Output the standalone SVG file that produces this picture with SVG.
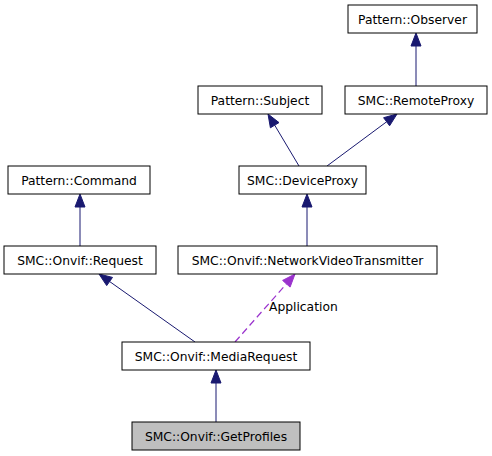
<svg xmlns="http://www.w3.org/2000/svg" width="492" height="456" viewBox="0 0 492 456">
<style>
.box{fill:#fff;stroke:#000;stroke-width:1}
.cur{fill:#bfbfbf;stroke:#000;stroke-width:1}
text{font-family:"DejaVu Sans",sans-serif;font-size:12.3px;fill:#000;text-anchor:middle}
.e{stroke:#191970;stroke-width:1;fill:none}
.ah{fill:#191970;stroke:#191970;stroke-width:1}
.d{stroke:#9a32cd;stroke-width:1.2;fill:none;stroke-dasharray:7,4}
.dh{fill:#9a32cd;stroke:#9a32cd;stroke-width:1}
</style>
<rect width="492" height="456" fill="#fff"/>
<g id="edges">
<line class="e" x1="416" y1="86" x2="416" y2="46"/>
<polygon class="ah" points="416,33 421,46 411,46"/>
<line class="e" x1="299" y1="166" x2="274.7" y2="125.2"/>
<polygon class="ah" points="268,114 279,122.6 270.4,127.8"/>
<line class="e" x1="327" y1="166" x2="386.6" y2="121.8"/>
<polygon class="ah" points="397,114 389.6,125.8 383.6,117.7"/>
<line class="e" x1="80" y1="246" x2="80" y2="207"/>
<polygon class="ah" points="80,194 85,207 75,207"/>
<line class="e" x1="307" y1="246" x2="307" y2="207"/>
<polygon class="ah" points="307,194 312,207 302,207"/>
<line class="e" x1="195" y1="342" x2="109.6" y2="281.5"/>
<polygon class="ah" points="99,274 112.5,277.4 106.7,285.6"/>
<line class="d" x1="235" y1="342" x2="286.4" y2="283.8"/>
<polygon class="dh" points="295,274 290.1,287.1 282.6,280.4"/>
<text x="269" y="311" style="text-anchor:start">Application</text>
<line class="e" x1="216" y1="422" x2="216" y2="383"/>
<polygon class="ah" points="216,370 221,383 211,383"/>
</g>
<g id="observer"><rect class="box" x="348" y="5" width="129" height="28"/><text x="412.5" y="23.5">Pattern::Observer</text></g>
<g id="remoteproxy"><rect class="box" x="345" y="86" width="142" height="28"/><text x="416" y="104.5">SMC::RemoteProxy</text></g>
<g id="subject"><rect class="box" x="198" y="86" width="124" height="28"/><text x="260" y="104.5">Pattern::Subject</text></g>
<g id="deviceproxy"><rect class="box" x="239" y="166" width="127" height="28"/><text x="302.5" y="184.5">SMC::DeviceProxy</text></g>
<g id="command"><rect class="box" x="8" y="166" width="142" height="28"/><text x="79" y="184.5">Pattern::Command</text></g>
<g id="request"><rect class="box" x="4" y="246" width="152" height="28"/><text x="80" y="264.5">SMC::Onvif::Request</text></g>
<g id="nvt"><rect class="box" x="178" y="246" width="259" height="28"/><text x="307.5" y="264.5">SMC::Onvif::NetworkVideoTransmitter</text></g>
<g id="mediarequest"><rect class="box" x="122" y="342" width="188" height="28"/><text x="216" y="360.5">SMC::Onvif::MediaRequest</text></g>
<g id="getprofiles"><rect class="cur" x="132" y="422" width="168" height="28"/><text x="216" y="440.5">SMC::Onvif::GetProfiles</text></g>
</svg>
